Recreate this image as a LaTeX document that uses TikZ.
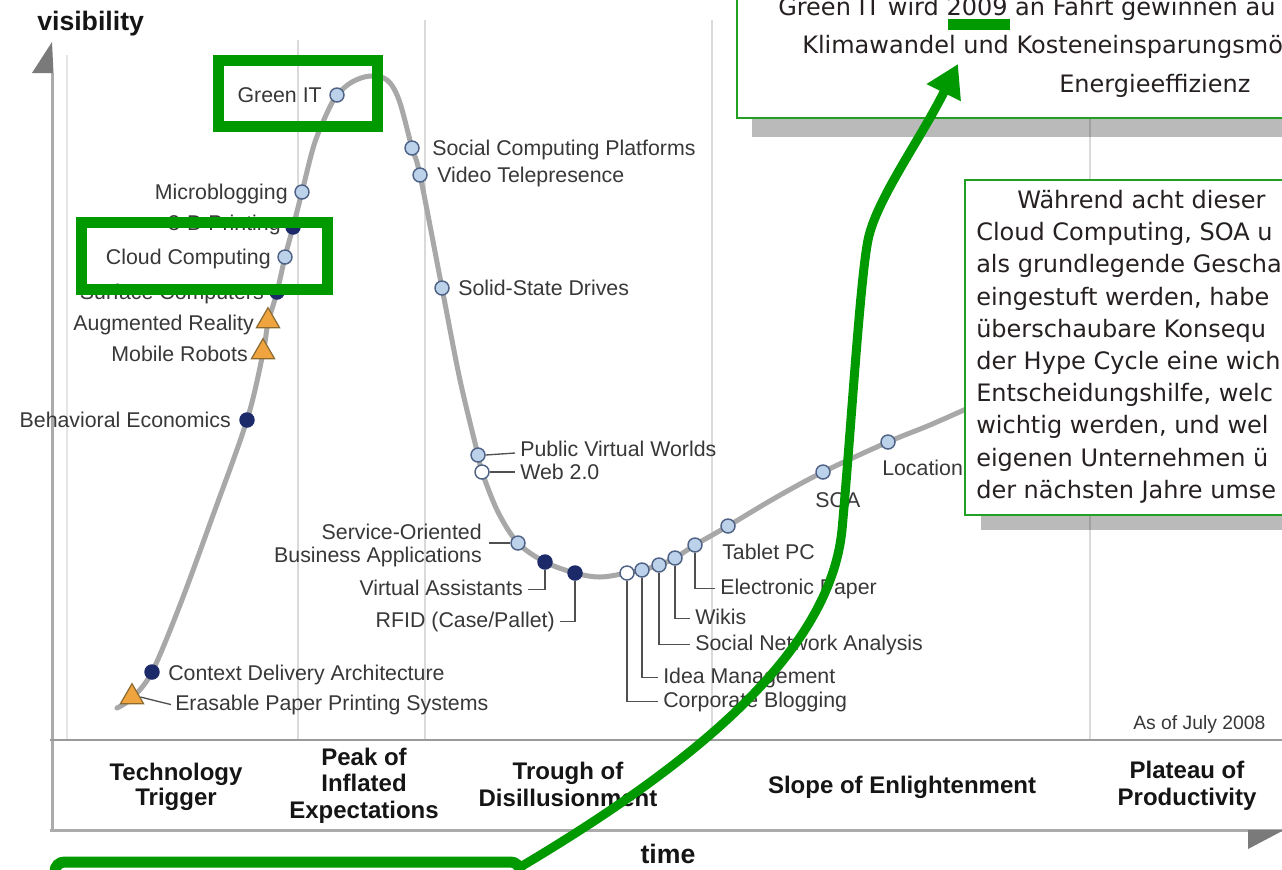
\documentclass[tikz,border=0pt]{standalone}
\usepackage{fontspec}
\setmainfont{Liberation Sans}
\newfontfamily\boxfont{DejaVu Sans}
\usetikzlibrary{shapes.geometric,arrows.meta,calc}
\definecolor{hgreen}{HTML}{009A00}
\definecolor{boxg}{HTML}{23A023}
\definecolor{curvec}{HTML}{A8A8A8}
\definecolor{dotb}{HTML}{4F6386}
\definecolor{dotl}{HTML}{BCD1EA}
\definecolor{dotd}{HTML}{1C2A6A}
\definecolor{trif}{HTML}{F0A440}
\definecolor{trib}{HTML}{8A6A30}
\definecolor{labelc}{HTML}{383838}
\definecolor{phasec}{HTML}{151515}
\definecolor{leadc}{HTML}{505050}
\definecolor{axisc}{HTML}{ABABAB}
\definecolor{arrc}{HTML}{7A7A7A}
\definecolor{divc}{HTML}{DADADA}
\definecolor{boxc}{HTML}{262020}
\tikzset{
  lbl/.style={font=\fontsize{16}{18}\selectfont, text=labelc, inner sep=0pt, text height=11.5pt, text depth=3.4pt},
  phase/.style={font=\bfseries\fontsize{18}{20}\selectfont, text=phasec, inner sep=0pt, anchor=base},
  lead/.style={draw=leadc, line width=1pt},
  ldot/.style={circle, draw=dotb, line width=1.1pt, fill=dotl, minimum size=10.5pt, inner sep=0pt},
  ddot/.style={ldot, fill=dotd, draw=dotd},
  wdot/.style={ldot, fill=white},
  tri/.style={regular polygon, regular polygon sides=3, draw=trib, fill=trif, line width=0.9pt, minimum size=20pt, inner sep=0pt},
  hl/.style={draw=hgreen, line width=8.25pt},
  boxtxt/.style={font=\boxfont\fontsize{18}{24}\selectfont, text=boxc, inner sep=0pt, anchor=base west},
  divider/.style={draw=divc, line width=1.5pt},
}
\begin{document}
\begin{tikzpicture}[x=0.75pt,y=-0.75pt]
\useasboundingbox (0,0) rectangle (1282,869);
\clip (0,0) rectangle (1282,869);
\fill[white] (0,0) rectangle (1282,869);

% dividers
\draw[divider] (298,40) -- (298,740);
\draw[divider] (425,20) -- (425,740);
\draw[divider] (712,20) -- (712,740);
\draw[divider] (1090,20) -- (1090,740);
\draw[draw=divc!70!white, line width=1.2pt] (67,55) -- (67,740);

% axes and phase bar
\draw[draw=axisc, line width=2.25pt] (52,73) -- (52,830);
\fill[arrc] (52,42) -- (32,73) -- (53.5,73) -- cycle;
\draw[draw=axisc, line width=2.25pt] (50,830) -- (1282,830);
\fill[arrc] (1248,830) -- (1284,830) -- (1248,849) -- cycle;
\draw[draw=axisc!90!black, line width=1.6pt] (50,740) -- (1282,740);

\node[phase] (ptt1) at (176,780) {Technology};
\node[phase] (ptt2) at (176,805) {Trigger};
\node[phase] (ppk1) at (364,765) {Peak of};
\node[phase] (ppk2) at (364,791) {Inflated};
\node[phase] (ppk3) at (364,818) {Expectations};
\node[phase] (ptr1) at (568,779) {Trough of};
\node[phase] (ptr2) at (568,806) {Disillusionment};
\node[phase] (psl) at (902,793) {Slope of Enlightenment};
\node[phase] (ppl1) at (1187,778) {Plateau of};
\node[phase] (ppl2) at (1187,805) {Productivity};
\node[phase, font=\bfseries\fontsize{20}{22}\selectfont] (ptime) at (668,863) {time};
\node[phase, font=\bfseries\fontsize{20}{22}\selectfont, anchor=base west] (pvis) at (37,30) {visibility};

% hype curve
\draw[curvec, line width=3.75pt, line cap=round] plot[smooth, tension=0.55] coordinates {(117,708) (132,698) (152,672) (180,605) (212,518) (247,420) (263,353) (268,323) (277,292) (285,257) (293,227) (302,192) (314,145) (327,113) (337,95) (352,82) (370,76) (387,80) (399,100) (412,148) (420,175) (442,288) (460,380) (478,455) (482,472) (498,512) (518,543) (545,562) (575,573) (600,577) (627,573) (642,570) (659,565) (675,558) (695,545) (728,526) (775,498) (823,472) (888,442) (930,425) (975,405)};

% markers
\node[tri] (teps) at (132,697) {};
\node[ddot] (dcda) at (152,672) {};
\node[ddot] (dbe) at (247,420) {};
\node[tri] (tmr) at (263,352) {};
\node[tri] (tar) at (268,321) {};
\node[ddot] (dsc) at (277,292) {};
\node[ldot] (dcc) at (285,257) {};
\node[ddot] (d3d) at (293,227) {};
\node[ldot] (dmb) at (302,192) {};
\node[ldot] (dgi) at (337,95) {};
\node[ldot] (dscp) at (412,148) {};
\node[ldot] (dvt) at (420,175) {};
\node[ldot] (dssd) at (442,288) {};
\node[ldot] (dpvw) at (478,455) {};
\node[wdot] (dweb) at (482,472) {};
\node[ldot] (dsoba) at (518,543) {};
\node[ddot] (dva) at (545,562) {};
\node[ddot] (drfid) at (575,573) {};
\node[wdot] (dcorp) at (627,573) {};
\node[ldot] (didea) at (642,570) {};
\node[ldot] (dsna) at (659,565) {};
\node[ldot] (dwik) at (675,558) {};
\node[ldot] (dep) at (695,545) {};
\node[ldot] (dtab) at (728,526) {};
\node[ldot] (dsoaa) at (823,472) {};
\node[ldot] (dloc) at (888,442) {};

% labels
\node[lbl, anchor=base east] (lgi) at (322,102) {Green IT};
\node[lbl, anchor=base west] (lscp) at (432,155) {Social Computing Platforms};
\node[lbl, anchor=base west] (lvt) at (437,182) {Video Telepresence};
\node[lbl, anchor=base east] (lmb) at (288,199) {Microblogging};
\node[lbl, anchor=base east] (l3d) at (281,230) {3-D Printing};
\node[lbl, anchor=base east] (lcc) at (271,264) {Cloud Computing};
\node[lbl, anchor=base east] (lsc) at (264,299) {Surface Computers};
\node[lbl, anchor=base east] (lar) at (254,330) {Augmented Reality};
\node[lbl, anchor=base east] (lmr) at (248,361) {Mobile Robots};
\node[lbl, anchor=base east] (lbe) at (231,427) {Behavioral Economics};
\node[lbl, anchor=base west] (lssd) at (458,295) {Solid-State Drives};
\node[lbl, anchor=base west] (lpvw) at (520,456) {Public Virtual Worlds};
\node[lbl, anchor=base west] (lweb) at (520,479) {Web 2.0};
\node[lbl, anchor=base east] (lsoa1) at (482,539) {Service-Oriented};
\node[lbl, anchor=base east] (lsoa2) at (482,562) {Business Applications};
\node[lbl, anchor=base east] (lva) at (523,595) {Virtual Assistants};
\node[lbl, anchor=base east] (lrfid) at (555,627) {RFID (Case/Pallet)};
\node[lbl, anchor=base west] (ltab) at (722,559) {Tablet PC};
\node[lbl, anchor=base west] (lep) at (720,594) {Electronic Paper};
\node[lbl, anchor=base west] (lwik) at (695,624) {Wikis};
\node[lbl, anchor=base west] (lsna) at (695,650) {Social Network Analysis};
\node[lbl, anchor=base west] (lidea) at (663,683) {Idea Management};
\node[lbl, anchor=base west] (lcorp) at (663,707) {Corporate Blogging};
\node[lbl, anchor=base west] (lsoa) at (815,507) {SOA};
\node[lbl, anchor=base west] (lloc) at (882,475) {Location};
\node[lbl, anchor=base west] (lcda) at (168,680) {Context Delivery Architecture};
\node[lbl, anchor=base west] (leps) at (175,710) {Erasable Paper Printing Systems};
\node[lbl, font=\fontsize{14.5}{16}\selectfont, anchor=base west] (lasof) at (1133,729) {As of July 2008};

% leaders
\coordinate (csoba) at (489,543);
\draw[lead] (csoba) -- (dsoba);
\draw[lead] (dpvw.east) -- ($(dpvw.east -| lpvw.west)+(-5,-2)$);
\draw[lead] (dweb.east) -- ($(dweb.east -| lweb.west)+(-5,0)$);
\draw[lead] (dva) |- ($(lva.east)+(5,0)$);
\draw[lead] (drfid) |- ($(lrfid.east)+(5,0)$);
\draw[lead] (dcorp) |- ($(lcorp.west)+(-5,0)$);
\draw[lead] (didea) |- ($(lidea.west)+(-5,0)$);
\draw[lead] (dsna) |- ($(lsna.west)+(-5,0)$);
\draw[lead] (dwik) |- ($(lwik.west)+(-5,0)$);
\draw[lead] (dep) |- ($(lep.west)+(-5,0)$);
\draw[lead] (teps.east) -- ($(leps.west)+(-4,0)$);

% top annotation box
\fill[black, opacity=0.27] (752,-10) rectangle (1300,137);
\draw[boxg, line width=2pt, fill=white] (737,-20) rectangle (1300,118);
\node[boxtxt] (tb1) at (778,15) {Green IT wird 2009 an Fahrt gewinnen au};
\node[boxtxt] (tb2) at (802,53) {Klimawandel und Kosteneinsparungsmö};
\node[boxtxt] (tb3) at (1059,92) {Energieeffizienz};
\fill[hgreen] (948,19) rectangle (1010,30);

% right annotation box
\fill[black, opacity=0.27] (981,196) rectangle (1300,530);
\draw[boxg, line width=2pt, fill=white] (965,180) rectangle (1300,515);
\node[boxtxt] (rb1) at (1017,208) {Während acht dieser};
\node[boxtxt] (rb2) at (976,240) {Cloud Computing, SOA u};
\node[boxtxt] (rb3) at (976,272.5) {als grundlegende Gescha};
\node[boxtxt] (rb4) at (976,305) {eingestuft werden, habe};
\node[boxtxt] (rb5) at (976,337) {überschaubare Konsequ};
\node[boxtxt] (rb6) at (976,369) {der Hype Cycle eine wich};
\node[boxtxt] (rb7) at (976,401.5) {Entscheidungshilfe, welc};
\node[boxtxt] (rb8) at (976,433.5) {wichtig werden, und wel};
\node[boxtxt] (rb9) at (976,466) {eigenen Unternehmen ü};
\node[boxtxt] (rb10) at (976,498) {der nächsten Jahre umse};

% green highlights
\draw[hl] (218.5,60.5) rectangle (377.5,126.5);
\draw[hl] (81.5,222.5) rectangle (327.5,289.5);
\draw[hl, fill=white, rounded corners=7pt] (55,862) rectangle (520,910);
\coordinate (gstart) at (522,866);
\coordinate (gmid) at (842,530);
\coordinate (gbend) at (868,240);
\coordinate (gend) at (958,64);
\draw[hgreen, line width=6.75pt, line join=round, -{Triangle[length=24pt,width=27pt]}] (gstart) .. controls (700,760) and (830,650) .. (gmid) .. controls (851,430) and (860,280) .. (gbend) .. controls (876,200) and (920,140) .. (gend);
\end{tikzpicture}
\end{document}
